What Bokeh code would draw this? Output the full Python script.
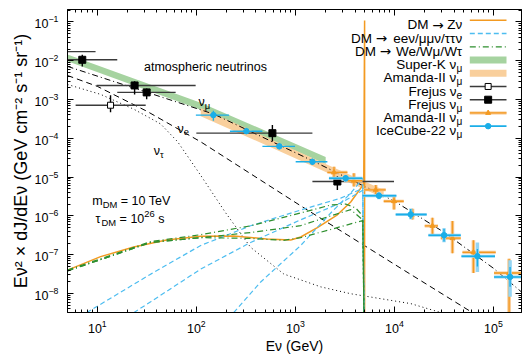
import math
from bokeh.plotting import figure
from bokeh.models import Range1d, FixedTicker, LogAxis, Label, ColumnDataSource
from bokeh.embed import file_html
from bokeh.resources import INLINE

# ---------------- data (E in GeV, flux E^2 dJ/dE in GeV cm^-2 s^-1 sr^-1) ----------------
X_RANGE = (5.0, 1.92e5)
Y_RANGE = (3.23e-9, 0.21)
X_TICKS = [1e1, 1e2, 1e3, 1e4, 1e5]
Y_TICKS = [1e-8, 1e-7, 1e-6, 1e-5, 1e-4, 1e-3, 1e-2, 1e-1]

# atmospheric neutrino models
atm_numu_E = [5, 150, 1535, 1.0e4, 3.16e4, 1.0e5, 2.0e5]
atm_numu_F = [7.16e-3, 4.22e-4, 2.54e-5, 2.40e-6, 3.80e-7, 4.47e-8, 1.0e-8]
atm_nue_E = [5, 10, 31.6, 110.7, 1132, 11590, 57540]
atm_nue_F = [4.17e-3, 2.19e-3, 5.01e-4, 8.13e-5, 1.82e-6, 4.47e-8, 3.55e-9]
atm_nutau_E = [5, 10.8, 23.3, 43.6, 64.7, 110.7, 197.7, 353.2, 762, 1803, 3622, 14620, 29310, 39810]
atm_nutau_F = [2.45e-3, 1.36e-3, 5.66e-4, 2.35e-4, 8.18e-5, 1.11e-5, 1.20e-6, 1.55e-7,
               3.18e-8, 1.48e-8, 9.84e-9, 5.47e-9, 3.23e-9, 2.5e-9]

# unfolded bands
superk_E = [5, 110.7, 2023]
superk_lo = [9.67e-3, 5.49e-4, 2.19e-5]
superk_hi = [1.46e-2, 8.30e-4, 3.31e-5]
amanda_band_E = [110.7, 446.7, 2275, 7798]
amanda_band_lo = [3.73e-4, 7.68e-5, 1.18e-5, 2.88e-6]
amanda_band_hi = [6.02e-4, 1.24e-4, 1.91e-5, 4.65e-6]

# Frejus
frejus_mu_E = [7.05, 23.8, 31.5, 586, 2655]
frejus_mu_Elo = [4.47, 9.84, 15.9, 100, 1486]
frejus_mu_Ehi = [15.9, 98.4, 61.8, 1486, 9908]
frejus_mu_F = [1.06e-2, 2.31e-3, 1.53e-3, 1.36e-4, 7.71e-6]
frejus_mu_Flo = [7.16e-3, 1.36e-3, 1.02e-3, 8.32e-5, 4.63e-6]
frejus_mu_Fhi = [1.42e-2, 2.97e-3, 1.94e-3, 2.22e-4, 1.05e-5]
frejus_e_E = [3.5, 13.6]
frejus_e_Elo = [2.0, 6.04]
frejus_e_Ehi = [9.6, 30.8]
frejus_e_F = [1.72e-2, 7.14e-4]
frejus_e_Flo = [1.4e-2, 4.74e-4]
frejus_e_Fhi = [2.1e-2, 1.29e-3]

# IceCube-22
ic_E = [148.6, 319.9, 688.7, 1486, 3221, 6982, 14620, 31700, 68870, 147200]
ic_Elo = [98.9, 218.3, 464.5, 1007, 2183, 4753, 10300, 22030, 47530, 101400]
ic_Ehi = [214, 464.5, 990.8, 2104, 4753, 10470, 21180, 46770, 103700, 196300]
ic_F = [3.98e-4, 1.53e-4, 6.21e-5, 2.49e-5, 9.35e-6, 3.32e-6, 1.09e-6, 3.18e-7, 9.12e-8, 2.67e-8]
ic_Flo = [2.85e-4, 1.29e-4, 5.2e-5, 2.09e-5, 7.84e-6, 2.78e-6, 8.5e-7, 2.19e-7, 4.99e-8, 1.48e-8]
ic_Fhi = [5.12e-4, 1.83e-4, 7.4e-5, 2.97e-5, 1.11e-5, 3.96e-6, 1.51e-6, 4.68e-7, 1.40e-7, 4.79e-8]
ic_Slo = [2.8e-4, 1.25e-4, 5.0e-5, 2.0e-5, 7.6e-6, 2.7e-6, 8.2e-7, 2.1e-7, 3.57e-8, 8.26e-9]
ic_Shi = [5.2e-4, 1.88e-4, 7.6e-5, 3.05e-5, 1.14e-5, 4.05e-6, 1.55e-6, 4.8e-7, 2.07e-7, 7.2e-8]
ic_has_sys = [0, 0, 0, 0, 1, 1, 1, 1, 1, 1]

# AMANDA-II
am_E = [2455, 3899, 6486, 9908, 15240, 24210, 38550, 62810, 143900]
am_Elo = [2104, 3097, 4932, 7798, 11860, 20230, 29380, 48640, 101400]
am_Ehi = [3350, 4753, 8166, 12420, 19320, 27540, 46770, 105400, 196300]
am_F = [1.33e-5, 8.07e-6, 4.71e-6, 2.39e-6, 1.09e-6, 5.52e-7, 2.67e-7, 1.15e-7, 3.37e-8]
am_Flo = [9.35e-6, 5.75e-6, 3.52e-6, 1.46e-6, 8.13e-7, 3.07e-7, 1.09e-7, 3.37e-8, 1.0e-9]
am_Fhi = [1.86e-5, 1.25e-5, 6.31e-6, 3.26e-6, 1.52e-6, 8.97e-7, 7.40e-7, 2.37e-7, 7.80e-8]

# dark matter decay (m_DM = 10 TeV, tau = 1e26 s)
zn_E = [5, 10.8, 23.3, 50.1, 110.7, 238.2, 512.9, 897.5, 1132, 1667, 2655, 3622, 4355, 4900, 5000, 5000]
zn_F = [4.0e-8, 8.9e-8, 1.58e-7, 2.4e-7, 3.0e-7, 3.03e-7, 2.55e-7, 2.40e-7, 2.86e-7, 4.99e-7,
        1.07e-6, 2.29e-6, 4.37e-6, 6.58e-6, 0.11, 1e-10]
lln1_E = [7.8, 34.6, 110.7, 353.2, 1132, 2871, 4790, 5000]
lln1_F = [3.2e-9, 3.15e-8, 1.73e-7, 5.57e-7, 1.42e-6, 2.87e-6, 5.16e-6, 1e-10]
lln2_E = [23.3, 34.6, 110.7, 353.2, 1132, 2871, 4790, 5000]
lln2_F = [3.2e-9, 6.12e-9, 4.25e-8, 2.07e-7, 7.94e-7, 2.16e-6, 4.59e-6, 1e-10]
lln3_E = [238.2, 446.7, 1132, 2275, 3622, 4790, 5000]
lln3_F = [3.2e-9, 1.98e-8, 1.73e-7, 1.19e-6, 3.85e-6, 9.27e-6, 1e-10]
wl1_E = [5, 34.6, 110.7, 353.2, 1132, 2275, 3221, 4064, 4790, 5000]
wl1_F = [4.0e-8, 2.18e-7, 3.28e-7, 5.56e-7, 1.19e-6, 1.91e-6, 2.02e-6, 1.60e-6, 1.0e-6, 1e-10]
wl2_E = [5, 34.6, 110.7, 353.2, 1132, 2275, 3622, 4790, 5000]
wl2_F = [3.8e-8, 2.07e-7, 2.75e-7, 3.72e-7, 5.62e-7, 1.0e-6, 1.45e-6, 7.9e-7, 1e-10]
wl3_E = [5, 34.6, 110.7, 353.2, 762, 1132, 2275, 4790, 5000]
wl3_F = [3.8e-8, 2.07e-7, 2.75e-7, 2.63e-7, 2.34e-7, 2.75e-7, 4.47e-7, 7.6e-7, 1e-10]

# ---------------- style ----------------
FONT = "Liberation Sans"
ORANGE = "#f39a21"
CYAN = "#1aaee8"
CYAN_DM = "#4dbdf0"
GREEN = "#2e8f2e"
SK_BAND = "#a6d3a0"
AM_BAND = "#f9cf9c"
LIGHT_CYAN = "#95d5f3"
LIGHT_ORANGE = "#f8c58c"
BAR = "#3a3a3a"

W, H = 522, 356
FL, FR, FT, FB = 67, 1, 9, 40
FW, FH = W - FL - FR, H - FT - FB
lx0, lx1 = math.log10(X_RANGE[0]), math.log10(X_RANGE[1])
ly0, ly1 = math.log10(Y_RANGE[0]), math.log10(Y_RANGE[1])


def X(px):
    return 10 ** (lx0 + px / FW * (lx1 - lx0))


def Y(py):
    return 10 ** (ly1 - py / FH * (ly1 - ly0))


p = figure(width=W, height=H, x_axis_type="log", y_axis_type="log",
           x_range=Range1d(*X_RANGE), y_range=Range1d(*Y_RANGE),
           output_backend="svg", toolbar_location=None,
           min_border_left=FL, min_border_right=FR, min_border_top=FT, min_border_bottom=FB)
p.background_fill_color = "white"
p.border_fill_color = "white"
p.outline_line_color = "black"
p.outline_line_width = 1
p.xgrid.visible = False
p.ygrid.visible = False


def minors(lo, hi):
    out = []
    for n in range(-10, 7):
        for k in range(2, 10):
            v = k * 10 ** n
            if lo < v < hi:
                out.append(v)
    return out


def style_axis(ax, ticks, mn, show):
    ax.ticker = FixedTicker(ticks=ticks, minor_ticks=mn)
    ax.major_tick_in = 6
    ax.major_tick_out = 0
    ax.minor_tick_in = 3
    ax.minor_tick_out = 0
    ax.major_tick_line_color = "black"
    ax.minor_tick_line_color = "black"
    ax.axis_line_color = "black"
    if show:
        ax.major_label_text_font = FONT
        ax.major_label_text_font_size = "12.5px"
        ax.major_label_text_color = "black"
        ax.axis_label_text_font = FONT
        ax.axis_label_text_font_style = "normal"
        ax.axis_label_text_color = "black"
    else:
        ax.major_label_overrides = {t: "" for t in ticks}
        ax.major_label_text_font_size = "1px"
        ax.major_label_standoff = 0


xmin = minors(*X_RANGE)
ymin = minors(*Y_RANGE)
style_axis(p.xaxis[0], X_TICKS, xmin, True)
style_axis(p.yaxis[0], Y_TICKS, ymin, True)
p.xaxis[0].major_label_standoff = 7
p.xaxis[0].axis_label_standoff = 2
p.xaxis[0].axis_label_text_font_size = "14px"
p.yaxis[0].major_label_standoff = 9
p.yaxis[0].axis_label_standoff = 1
p.yaxis[0].axis_label_text_font_size = "18px"
p.xaxis[0].axis_label = "Eν (GeV)"
p.yaxis[0].axis_label = "Eν² × dJ/dEν (GeV cm⁻² s⁻¹ sr⁻¹)"
ax_top = LogAxis()
ax_right = LogAxis()
style_axis(ax_top, X_TICKS, xmin, False)
style_axis(ax_right, Y_TICKS, ymin, False)
p.add_layout(ax_top, "above")
p.add_layout(ax_right, "right")

# ---------------- text helpers ----------------
AW = {' ': 278, '-': 333, '/': 278, '0': 556, '1': 556, '2': 556, '3': 556, '4': 556, '5': 556,
      '6': 556, '7': 556, '8': 556, '9': 556, '=': 584, '(': 333, ')': 333, '×': 584, '→': 838,
      'A': 667, 'C': 722, 'D': 722, 'E': 667, 'F': 611, 'G': 778, 'I': 278, 'J': 500, 'K': 667,
      'M': 833, 'S': 667, 'T': 611, 'V': 667, 'W': 944, 'Z': 611, 'a': 556, 'b': 556, 'c': 500,
      'd': 556, 'e': 556, 'f': 278, 'h': 556, 'i': 222, 'j': 222, 'k': 500, 'l': 222, 'm': 833,
      'n': 556, 'o': 556, 'p': 556, 'r': 333, 's': 500, 't': 278, 'u': 556, 'v': 500, 'ν': 500,
      'μ': 576, 'τ': 480}
SF = 0.75


def tw(s, fs):
    return sum(AW.get(c, 556) for c in s) * fs / 1000.0


def add_label(text, x, y, size, dx, dy, align, font=FONT):
    p.add_layout(Label(x=x, y=y, x_offset=round(dx, 2), y_offset=round(dy, 2),
                       text=text, text_font=font, text_font_size="%.1fpx" % size,
                       text_align=align, text_baseline='alphabetic', text_color="black"))


def rise(k, fs):
    return {'n': 0.0, 'arrow': 0.0, 'sub': -0.28 * fs, 'sup': 0.45 * fs}[k]


def put(segs, x, y, fs, dy=0.0, align='left'):
    """Place a run of text pieces; spaces are turned into offsets (SVG trims them)."""
    order = list(reversed(segs)) if align == 'right' else segs
    pos = 0.0
    for t, k in order:
        size = fs if k in ('n', 'arrow') else fs * SF
        font = "DejaVu Sans" if k == 'arrow' else FONT
        core = t.strip(' ')
        lead = tw(t[:len(t) - len(t.lstrip(' '))], size)
        trail = tw(t[len(t.rstrip(' ')):], size)
        full = tw(t, size)
        if align == 'right':
            add_label(core, x, y, size, pos - trail, dy + rise(k, fs), 'right', font)
            pos -= full
        else:
            add_label(core, x, y, size, pos + lead, dy + rise(k, fs), 'left', font)
            pos += full


# ---------------- bands ----------------
p.varea(x=superk_E, y1=superk_lo, y2=superk_hi, fill_color=SK_BAND)
p.varea(x=amanda_band_E, y1=amanda_band_lo, y2=amanda_band_hi, fill_color=AM_BAND)

# ---------------- atmospheric models ----------------
p.line(atm_numu_E, atm_numu_F, line_color="black", line_width=1, line_dash="6 3 1 3")
p.line(atm_nue_E, atm_nue_F, line_color="black", line_width=1, line_dash="6 4")
p.line(atm_nutau_E, atm_nutau_F, line_color="black", line_width=1, line_dash="1 3")

# ---------------- DM curves ----------------
p.line(zn_E, zn_F, line_color=ORANGE, line_width=1.5)
for e, f in ((lln1_E, lln1_F), (lln2_E, lln2_F), (lln3_E, lln3_F)):
    p.line(e, f, line_color=CYAN_DM, line_width=1.2, line_dash="5 3")
for e, f in ((wl1_E, wl1_F), (wl2_E, wl2_F), (wl3_E, wl3_F)):
    p.line(e, f, line_color=GREEN, line_width=1.2, line_dash="6 3 1 3")

# ---------------- data points ----------------
fe = ColumnDataSource(dict(E=frejus_e_E, Elo=frejus_e_Elo, Ehi=frejus_e_Ehi, F=frejus_e_F,
                           Flo=frejus_e_Flo, Fhi=frejus_e_Fhi))
fm = ColumnDataSource(dict(E=frejus_mu_E, Elo=frejus_mu_Elo, Ehi=frejus_mu_Ehi, F=frejus_mu_F,
                           Flo=frejus_mu_Flo, Fhi=frejus_mu_Fhi))
for src in (fe, fm):
    p.segment(x0='Elo', y0='F', x1='Ehi', y1='F', source=src, line_color=BAR, line_width=1.4)
    p.segment(x0='E', y0='Flo', x1='E', y1='Fhi', source=src, line_color="black", line_width=1.4)
p.scatter('E', 'F', source=fe, marker="square", size=6, fill_color="white", line_color="black",
          line_width=1)
p.scatter('E', 'F', source=fm, marker="square", size=7, fill_color="black", line_color="black")

am = ColumnDataSource(dict(E=am_E, Elo=am_Elo, Ehi=am_Ehi, F=am_F, Flo=am_Flo, Fhi=am_Fhi))
p.segment(x0='Elo', y0='F', x1='Ehi', y1='F', source=am, line_color=LIGHT_ORANGE, line_width=3)
p.segment(x0='E', y0='Flo', x1='E', y1='Fhi', source=am, line_color=LIGHT_ORANGE, line_width=3.5)
p.segment(x0='Elo', y0='F', x1='Ehi', y1='F', source=am, line_color=ORANGE, line_width=1.3)
p.segment(x0='E', y0='Flo', x1='E', y1='Fhi', source=am, line_color=ORANGE, line_width=1.3)
p.scatter('E', 'F', source=am, marker="triangle", size=5, fill_color=ORANGE, line_color=ORANGE)

sys_idx = [i for i, s in enumerate(ic_has_sys) if s]
ics = ColumnDataSource(dict(E=[ic_E[i] for i in sys_idx], Elo=[ic_Elo[i] for i in sys_idx],
                            Ehi=[ic_Ehi[i] for i in sys_idx], F=[ic_F[i] for i in sys_idx],
                            Slo=[ic_Slo[i] for i in sys_idx], Shi=[ic_Shi[i] for i in sys_idx]))
p.segment(x0='Elo', y0='F', x1='Ehi', y1='F', source=ics, line_color=LIGHT_CYAN, line_width=3)
p.segment(x0='E', y0='Slo', x1='E', y1='Shi', source=ics, line_color=LIGHT_CYAN, line_width=3.5)
ic = ColumnDataSource(dict(E=ic_E, Elo=ic_Elo, Ehi=ic_Ehi, F=ic_F, Flo=ic_Flo, Fhi=ic_Fhi))
p.segment(x0='Elo', y0='F', x1='Ehi', y1='F', source=ic, line_color=CYAN, line_width=1.4)
p.segment(x0='E', y0='Flo', x1='E', y1='Fhi', source=ic, line_color=CYAN, line_width=1.4)
p.scatter('E', 'F', source=ic, marker="circle", size=5.5, fill_color=CYAN, line_color=CYAN)

# ---------------- legend ----------------
FS = 13.5
L_TXT_R = FW - 59.3
L_X0, L_X1 = FW - 51.7, FW - 15
LXM = (L_X0 + L_X1) / 2
rows = [
    [("DM ", 'n'), ("→", 'arrow'), (" Zν", 'n')],
    [("DM ", 'n'), ("→", 'arrow'), (" eeν/μμν/ττν", 'n')],
    [("DM ", 'n'), ("→", 'arrow'), (" We/Wμ/Wτ", 'n')],
    [("Super-K ν", 'n'), ("μ", 'sub')],
    [("Amanda-II ν", 'n'), ("μ", 'sub')],
    [("Frejus ν", 'n'), ("e", 'sub')],
    [("Frejus ν", 'n'), ("μ", 'sub')],
    [("Amanda-II ν", 'n'), ("μ", 'sub')],
    [("IceCube-22 ν", 'n'), ("μ", 'sub')],
]
for i, segs in enumerate(rows):
    yc = 11 + 13.4 * i
    put(segs, X(L_TXT_R), Y(yc), FS, dy=-4.6, align='right')

ry = [Y(11 + 13.4 * i) for i in range(9)]
lx = [X(L_X0), X(L_X1)]
p.line(lx, [ry[0]] * 2, line_color=ORANGE, line_width=1.5)
p.line(lx, [ry[1]] * 2, line_color=CYAN_DM, line_width=1.5, line_dash="5 3")
p.line(lx, [ry[2]] * 2, line_color=GREEN, line_width=1.2, line_dash="6 3 1 3")
p.line(lx, [ry[3]] * 2, line_color=SK_BAND, line_width=7)
p.line(lx, [ry[4]] * 2, line_color=AM_BAND, line_width=7)
p.line(lx, [ry[5]] * 2, line_color=BAR, line_width=1.4)
p.scatter([X(LXM)], [ry[5]], marker="square", size=6, fill_color="white", line_color="black")
p.line(lx, [ry[6]] * 2, line_color=BAR, line_width=1.4)
p.scatter([X(LXM)], [ry[6]], marker="square", size=7, fill_color="black", line_color="black")
p.line(lx, [ry[7]] * 2, line_color=LIGHT_ORANGE, line_width=3)
p.line(lx, [ry[7]] * 2, line_color=ORANGE, line_width=1.3)
p.scatter([X(LXM)], [ry[7]], marker="triangle", size=5, fill_color=ORANGE, line_color=ORANGE)
p.line(lx, [ry[8]] * 2, line_color=CYAN, line_width=1.6)
p.scatter([X(LXM)], [ry[8]], marker="circle", size=5.5, fill_color=CYAN, line_color=CYAN)

# annotations
AFS = 12.5
put([("atmospheric neutrinos", 'n')], 29.6, 7.03e-3, AFS)
put([("ν", 'n'), ("μ", 'sub')], 105.4, 8.53e-4, AFS)
put([("ν", 'n'), ("e", 'sub')], 64.7, 1.75e-4, AFS)
put([("ν", 'n'), ("τ", 'sub')], 37.1, 4.83e-5, AFS)
put([("m", 'n'), ("DM", 'sub'), (" = 10 TeV", 'n')], 8.9, 2.39e-6, AFS)
put([("τ", 'n'), ("DM", 'sub'), (" = 10", 'n'), ("26", 'sup'), (" s", 'n')], 9.6, 8.13e-7, AFS)

open("out.html", "w").write(file_html(p, INLINE))
